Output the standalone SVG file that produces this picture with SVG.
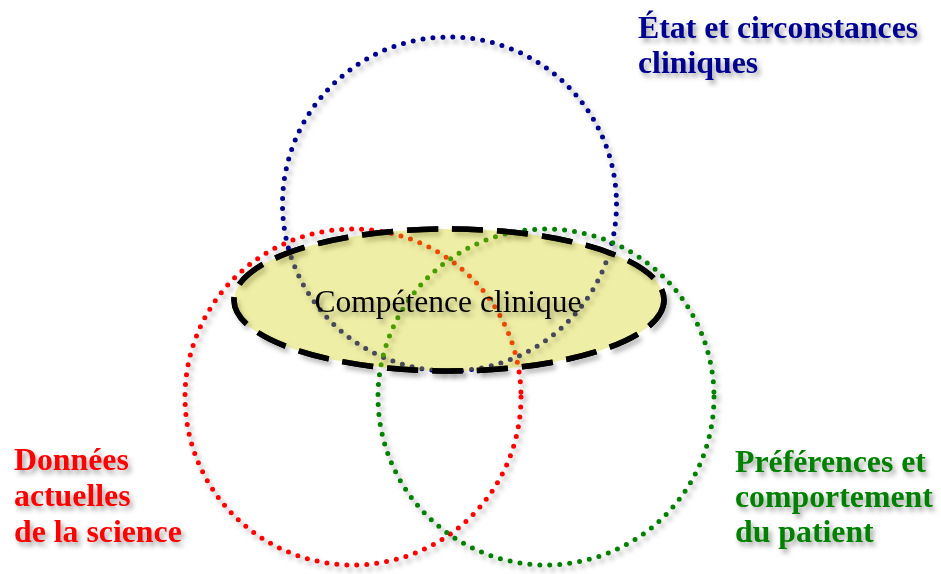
<svg xmlns="http://www.w3.org/2000/svg" width="941" height="574" viewBox="0 0 941 574">
<defs>
<filter id="sh" x="-20%" y="-20%" width="140%" height="140%">
<feDropShadow dx="3" dy="4" stdDeviation="2.5" flood-color="#000" flood-opacity="0.3"/>
</filter>
<filter id="tsh" x="-10%" y="-20%" width="120%" height="150%">
<feDropShadow dx="3" dy="4" stdDeviation="2.5" flood-color="#000" flood-opacity="0.35"/>
</filter>
</defs>
<style>
.ring{fill:none;stroke-width:5;stroke-dasharray:0 10;stroke-linecap:round}
.lbl{font-family:"Liberation Serif","Times New Roman",serif;font-weight:bold;font-size:31.8px}
</style>
<rect width="941" height="574" fill="#fff"/>
<g id="circle-etat" filter="url(#sh)"><circle class="ring" cx="449.5" cy="204" r="167" stroke="#000090"/></g>
<g id="circle-donnees" filter="url(#sh)"><circle class="ring" cx="353" cy="397" r="168" stroke="#ff0000"/></g>
<g id="circle-preferences" filter="url(#sh)"><circle class="ring" cx="546" cy="397" r="168" stroke="#008000"/></g>
<g id="competence">
<ellipse cx="449" cy="300" rx="215" ry="71" fill="none" stroke="#000" stroke-width="5.5" stroke-dasharray="31 14" filter="url(#sh)"/>
<ellipse cx="449" cy="300" rx="215" ry="71" fill="#cece00" fill-opacity="0.35"/>
<ellipse cx="449" cy="300" rx="215" ry="71" fill="none" stroke="#000" stroke-width="5.5" stroke-dasharray="31 14"/>
<text x="448" y="312" text-anchor="middle" font-family="'Liberation Serif','Times New Roman',serif" font-size="31.5" fill="#000" filter="url(#tsh)">Compétence clinique</text>
</g>
<g id="label-etat" fill="#000090" filter="url(#tsh)">
<text class="lbl" x="638" y="38">État et circonstances</text>
<text class="lbl" x="638" y="73">cliniques</text>
</g>
<g id="label-donnees" fill="#ff0000" filter="url(#tsh)">
<text class="lbl" x="14" y="470">Données</text>
<text class="lbl" x="14" y="506">actuelles</text>
<text class="lbl" x="14" y="542">de la science</text>
</g>
<g id="label-preferences" fill="#008000" filter="url(#tsh)">
<text class="lbl" x="735" y="472">Préférences et</text>
<text class="lbl" x="735" y="507">comportement</text>
<text class="lbl" x="735" y="542">du patient</text>
</g>
<g id="connectors"/>
</svg>
